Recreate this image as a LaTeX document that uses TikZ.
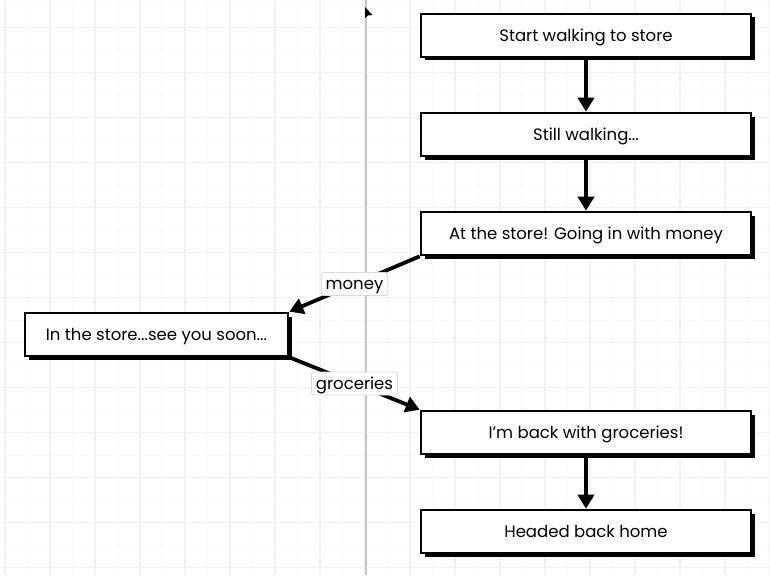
\documentclass[tikz,border=0pt]{standalone}
\usepackage{fontspec}
\setmainfont{Poppins}
\usetikzlibrary{positioning,arrows.meta,shadows}

\begin{document}
\begin{tikzpicture}[
  x=1pt, y=-1pt,
  gridminor/.style={draw=gray!5, line width=1pt},
  gridmajor/.style={draw=gray!10, line width=1.2pt},
  stepbox/.style={rectangle, draw=black, fill=white, line width=2.6pt,
    minimum width=330pt, minimum height=43pt, inner sep=2pt,
    text height=12.5pt, text depth=1pt,
    font=\fontsize{16.5}{18}\selectfont,
    drop shadow={shadow xshift=3.5pt, shadow yshift=-3.5pt, fill=black, opacity=1}},
  flow/.style={line width=3.8pt, -{Triangle[length=14pt, width=16pt]}},
  edgelabel/.style={fill=white, draw=gray!30, rounded corners=2.5pt, line width=0.8pt,
    inner xsep=4.5pt, inner ysep=5pt, text height=12pt, text depth=1pt,
    font=\fontsize{16.5}{18}\selectfont},
  node distance=53.4pt
]
\useasboundingbox (0,0) rectangle (770,575);
% background grid
\fill[white] (0,0) rectangle (770,575);
\foreach \gx in {27.5,72.5,...,770} \draw[gridminor] (\gx,0) -- (\gx,575);
\foreach \gy in {5,50,...,575} \draw[gridminor] (0,\gy) -- (770,\gy);
\foreach \gx in {5,50,...,770} \draw[gridmajor] (\gx,0) -- (\gx,575);
\foreach \gy in {27.5,72.5,...,575} \draw[gridmajor] (0,\gy) -- (770,\gy);
\draw[gray!45, line width=1.5pt] (366,0) -- (366,575);
\fill (365,7) -- (365,18) -- (368,15.5) -- (372.5,15) -- cycle;

\node[stepbox] (start) at (586,35.5) {Start walking to store};
\node[stepbox, below=of start] (walking) {Still walking...};
\node[stepbox, below=of walking] (store) {At the store! Going in with money};
\node[stepbox, minimum width=263pt] (inside) at (156.5,334.5) {In the store...see you soon...};
\node[stepbox, below=153.4pt of store] (back) {I'm back with groceries!};
\node[stepbox, below=of back] (home) {Headed back home};

\draw[flow] (start) -- (walking);
\draw[flow] (walking) -- (store);
\draw[flow] (store.south west) -- node[edgelabel] {money} (inside.north east);
\draw[flow] (inside.south east) -- node[edgelabel] {groceries} (back.north west);
\draw[flow] (back) -- (home);
\end{tikzpicture}
\end{document}
